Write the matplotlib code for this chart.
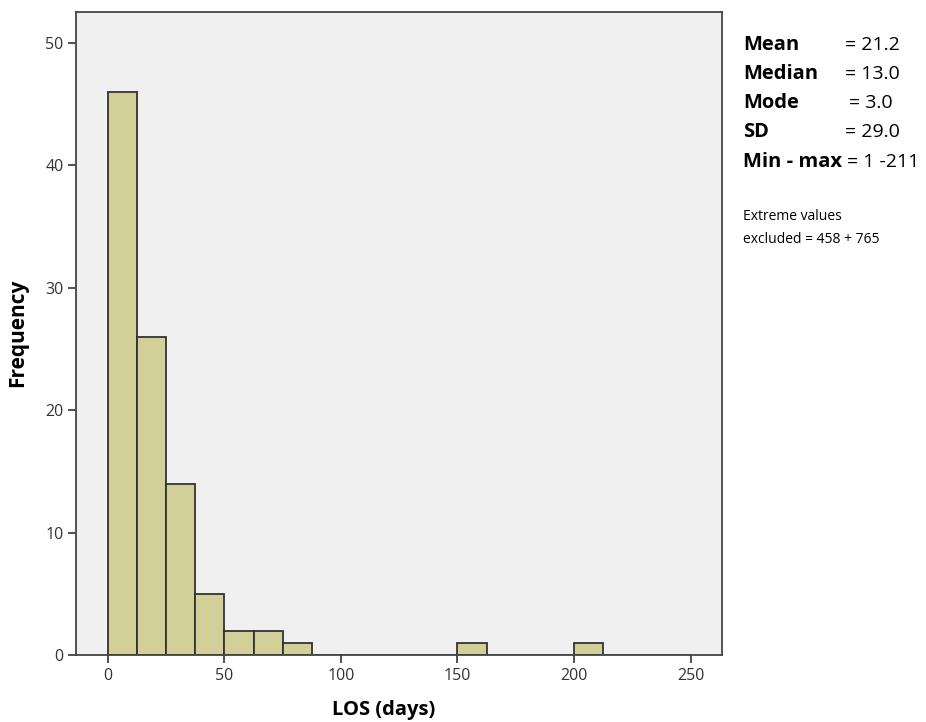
import numpy as np
import matplotlib
matplotlib.use("Agg")
import matplotlib.pyplot as plt

# histogram of length of stay, bin width 12.5 days
bin_edges = np.arange(0, 262.5, 12.5)
counts = [46, 26, 14, 5, 2, 2, 1, 0, 0, 0, 0, 0, 1, 0, 0, 0, 1, 0, 0, 0]

stat_names = ["Mean", "Median", "Mode", "SD", "Min - max"]
stat_values = ["= 21.2", "= 13.0", "= 3.0", "= 29.0", "= 1 -211"]
note_lines = ["Extreme values", "excluded = 458 + 765"]

plt.rcParams['font.family'] = ['Open Sans', 'DejaVu Sans']

fig = plt.figure(figsize=(9.26, 7.22), dpi=100)
ax = fig.add_axes([76/926, 1 - 655/722, (722-76)/926, (655-12)/722])
ax.set_facecolor("#f0f0f0")

ax.bar(bin_edges[:-1], counts, width=12.5, align="edge",
       color="#d3cf98", edgecolor="#333333", linewidth=1.3)

ax.set_xlim(-13.7, 263.5)
ax.set_ylim(0, 52.5)
ax.set_xticks([0, 50, 100, 150, 200, 250])
ax.set_yticks([0, 10, 20, 30, 40, 50])
ax.tick_params(direction="out", length=6, width=1.2, color="#333333",
               labelsize=11.5, labelcolor="#333333", pad=3)
for s in ax.spines.values():
    s.set_color("#444444")
    s.set_linewidth(1.3)

fig.text(384/926, 1 - 710/722, "LOS (days)", fontsize=14.5, fontweight="bold",
         ha="center", va="center")
fig.text(18/926, 1 - 333/722, "Frequency", fontsize=15, fontweight="bold",
         ha="center", va="center", rotation=90)

ys = [45, 74, 103, 132, 162]
eq_x = [845, 845, 849, 845, 847]
for name, val, y, ex in zip(stat_names, stat_values, ys, eq_x):
    fig.text(743/926, 1 - y/722, name, fontsize=14.5, fontweight="bold",
             va="center", ha="left")
    fig.text(ex/926, 1 - y/722, val, fontsize=14, va="center", ha="left")

for line, y in zip(note_lines, [216, 240]):
    fig.text(743/926, 1 - y/722, line, fontsize=10, va="center", ha="left")

fig.savefig("out.png", dpi=100)
